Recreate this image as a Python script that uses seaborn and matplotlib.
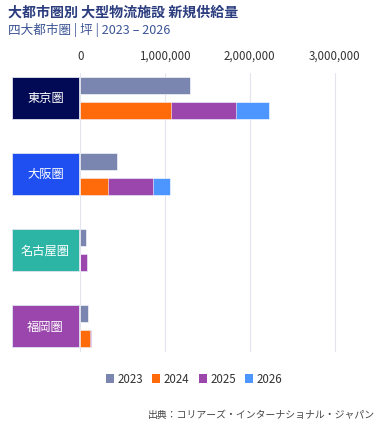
import pandas as pd
import matplotlib.pyplot as plt
import seaborn as sns
from matplotlib.patches import Patch, Rectangle
from matplotlib.transforms import blended_transform_factory
from matplotlib.ticker import FuncFormatter

# Data (tsubo)
regions = ["東京圏", "大阪圏", "名古屋圏", "福岡圏"]
years = ["2023", "2024", "2025", "2026"]
supply_2023 = [1300000, 430000, 67000, 90000]
supply_2024 = [1066000, 323000, 0, 115000]
supply_2025 = [767000, 534000, 83000, 15000]
supply_2026 = [396000, 197000, 0, 0]

year_colors = {"2023": "#7a86b0", "2024": "#ff6a0a", "2025": "#9a46ad", "2026": "#4d96ff"}
region_colors = ["#030a55", "#1f4ff0", "#2cb5a4", "#9a46ad"]

sns.set_theme(style="white")
plt.rcParams["font.family"] = ["Noto Sans CJK JP", "DejaVu Sans"]

# Build long table: 2023 bar on top row, stacked 2024-2026 bar below
off = 0.167
rows = []
for i, r in enumerate(regions):
    rows.append({"pos": i - off, "value": supply_2023[i], "year": "2023"})
    c24 = supply_2024[i]
    c25 = c24 + supply_2025[i]
    c26 = c25 + supply_2026[i]
    rows.append({"pos": i + off, "value": c26, "year": "2026"})
    rows.append({"pos": i + off, "value": c25, "year": "2025"})
    rows.append({"pos": i + off, "value": c24, "year": "2024"})
df = pd.DataFrame(rows)

fig = plt.figure(figsize=(3.82, 4.27), dpi=100)
ax = fig.add_axes([80.3 / 382, 1 - 353 / 427, (360 - 80.3) / 382, (353 - 74) / 427])

sns.barplot(data=df, x="value", y="pos", hue="year", orient="y", native_scale=True,
            hue_order=["2023", "2026", "2025", "2024"], palette=year_colors,
            dodge=False, errorbar=None, width=0.668, saturation=1,
            edgecolor="white", linewidth=0.4, legend=False, ax=ax, zorder=3)

ax.set_xlim(0, 3300000)
ax.set_ylim(3.34, -0.325)
ax.set_xticks([0, 1000000, 2000000, 3000000])
ax.xaxis.set_major_formatter(FuncFormatter(lambda v, p: f"{int(v):,}"))
ax.xaxis.tick_top()
ax.tick_params(axis="x", length=0, pad=8, labelsize=8.3, labelcolor="#333333")
ax.set_yticks([])
ax.set_xlabel("")
ax.set_ylabel("")
ax.grid(axis="x", color="#e2e4ef", linewidth=0.8, zorder=0)
for s in ax.spines.values():
    s.set_visible(False)

# Region label boxes
trans = blended_transform_factory(fig.transFigure, ax.transData)
for i, r in enumerate(regions):
    ax.add_patch(Rectangle((12 / 382, i - 0.275), 67 / 382, 0.55, transform=trans,
                           facecolor=region_colors[i], edgecolor="#dfe3f0", linewidth=0.6,
                           clip_on=False, zorder=4))
    ax.text(45.5 / 382, i, r, transform=trans, ha="center", va="center",
            color="white", fontsize=8.8, zorder=5)

# Titles
fig.text(8 / 382, 1 - 13 / 427, "大都市圏別 大型物流施設 新規供給量", fontsize=10.1,
         fontweight="bold", color="#2b3d7e", va="center", ha="left")
fig.text(8 / 382, 1 - 30 / 427, "四大都市圏 | 坪 | 2023 – 2026", fontsize=9.1,
         color="#3d5596", va="center", ha="left")

# Legend
handles = [Patch(facecolor=year_colors[y], edgecolor="none", label=y) for y in years]
fig.legend(handles=handles, loc="center", bbox_to_anchor=(0.508, 1 - 380 / 427), ncol=4,
           frameon=False, fontsize=8.3, handlelength=0.7, handleheight=0.7,
           handletextpad=0.3, columnspacing=0.8, labelcolor="#333333")

fig.text(375 / 382, 1 - 415 / 427, "出典：コリアーズ・インターナショナル・ジャパン",
         fontsize=7.1, color="#444444", ha="right", va="center")

fig.savefig("out.png", dpi=100)
